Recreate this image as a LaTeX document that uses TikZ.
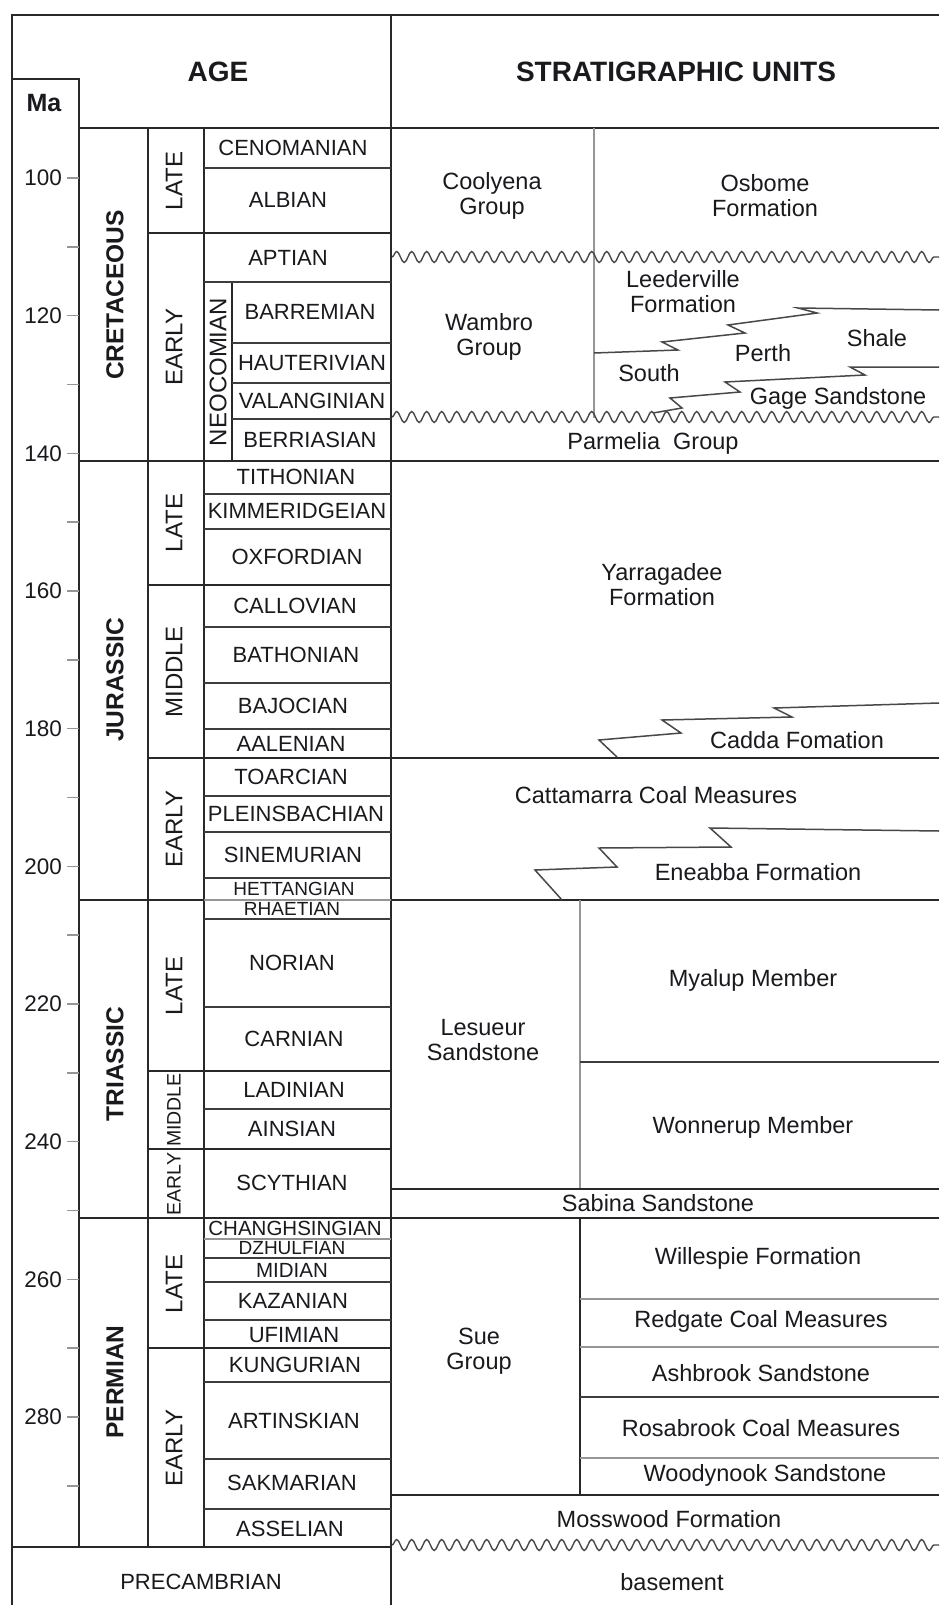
\documentclass[tikz,border=0pt]{standalone}
\usepackage{fontspec}
\setmainfont{Liberation Sans}
\usepackage{xcolor}
\definecolor{strink}{RGB}{25, 25, 30}
\definecolor{strline}{RGB}{40, 40, 40}
\definecolor{strgray}{RGB}{150, 150, 150}
\usetikzlibrary{decorations.pathmorphing}
\newcommand{\fsHead}{\fontsize{28}{30}\selectfont\bfseries}
\newcommand{\fsMa}{\fontsize{25}{27}\selectfont\bfseries}
\newcommand{\fsPeriod}{\fontsize{24.5}{26}\selectfont\bfseries}
\newcommand{\fsEpoch}{\fontsize{24}{26}\selectfont}
\newcommand{\fsEpochSm}{\fontsize{19.5}{21}\selectfont}
\newcommand{\fsStage}{\fontsize{22}{24}\selectfont}
\newcommand{\fsStageSm}{\fontsize{19}{20}\selectfont}
\newcommand{\fsUnit}{\fontsize{23.5}{25}\selectfont}
\newcommand{\fsTick}{\fontsize{22.5}{24}\selectfont}

\begin{document}
\begin{tikzpicture}[x=1pt, y=-1pt,
    boxline/.style={line width=2.8pt, strline},
    div/.style={line width=1.8pt, strline},
    subline/.style={line width=1.6pt, strline!90},
    faint/.style={line width=1.6pt, strgray},
    tickmark/.style={line width=1.5pt, strgray},
    unconf/.style={line width=1.4pt, strline!85, decorate,
        decoration={snake, segment length=15pt, amplitude=5.5pt}},
    intertongue/.style={line width=1.5pt, strline!85},
    stg/.style={font=\fsStage, text=strink, inner sep=0pt},
    unit/.style={font=\fsUnit, text=strink, align=center, inner sep=0pt},
    period/.style={font=\fsPeriod, text=strink, rotate=90, inner sep=0pt},
    epoch/.style={font=\fsEpoch, text=strink, rotate=90, inner sep=0pt}]

% === Fondo y marco ===
\fill[white] (0,0) rectangle (939,1605);
\useasboundingbox (0,0) rectangle (939,1605);

\draw[boxline] (939,15) -- (12,15) -- (12,1605);
\draw[boxline] (391,15) -- (391,1605);
\draw[boxline] (79,128) -- (939,128);
\draw[boxline] (12,79) -- (79,79) -- (79,1547);
\draw[boxline] (12,1547) -- (391,1547);

% Encabezados
\node[font=\fsHead, text=strink] (age) at (218,72) {AGE};
\node[font=\fsHead, text=strink] (units) at (676,72) {STRATIGRAPHIC UNITS};
\node[font=\fsMa, text=strink] (ma) at (44,103) {Ma};

% === Escala en Ma ===
\foreach \m in {100,110,...,290}
    \draw[tickmark] (67,{178+(\m-100)*6.883}) -- (79,{178+(\m-100)*6.883});
\foreach \m in {100,120,...,280}
    \node[anchor=east, font=\fsTick, text=strink, inner sep=0pt] (ma\m)
        at (62,{178+(\m-100)*6.883}) {\m};

% === Columnas de edad ===
\draw[div] (148,128) -- (148,1547);
\draw[div] (204,128) -- (204,1547);
\draw[div] (232,282) -- (232,461);

% Limites de periodo y de epoca
\draw[div] (79,461) -- (939,461);
\draw[div] (79,900) -- (204,900) (391,900) -- (939,900);
\draw[div] (79,1218) -- (939,1218);
\draw[div] (148,233) -- (391,233) (148,585) -- (391,585)
    (148,758) -- (939,758) (148,1071) -- (391,1071)
    (148,1149) -- (391,1149) (148,1348) -- (391,1348);

% Limites de piso
\draw[subline] (204,168) -- (391,168) (204,282) -- (391,282)
    (232,343) -- (391,343) (232,383) -- (391,383) (232,419) -- (391,419);
\draw[subline] (204,494) -- (391,494) (204,529) -- (391,529)
    (204,627) -- (391,627) (204,683) -- (391,683) (204,729) -- (391,729)
    (204,796) -- (391,796) (204,832) -- (391,832) (204,878) -- (391,878);
\draw[subline] (204,919) -- (391,919) (204,1007) -- (391,1007)
    (204,1109) -- (391,1109);
\draw[subline] (204,1258) -- (391,1258) (204,1282) -- (391,1282)
    (204,1320) -- (391,1320) (204,1382) -- (391,1382)
    (204,1459) -- (391,1459) (204,1509) -- (391,1509);
\draw[faint] (204,900) -- (391,900) (204,1239) -- (391,1239);

% Periodos
\node[period] (cretaceous) at (115,295) {CRETACEOUS};
\node[period] (jurassic) at (115,680) {JURASSIC};
\node[period] (triassic) at (115,1064) {TRIASSIC};
\node[period] (permian) at (115,1382) {PERMIAN};

% Epocas
\node[epoch] (kLate) at (174,181) {LATE};
\node[epoch] (kEarly) at (174,347) {EARLY};
\node[epoch] (neocomian) at (218,372) {NEOCOMIAN};
\node[epoch] (jLate) at (174,523) {LATE};
\node[epoch] (jMiddle) at (174,672) {MIDDLE};
\node[epoch] (jEarly) at (174,829) {EARLY};
\node[epoch] (tLate) at (174,986) {LATE};
\node[epoch, font=\fsEpochSm] (tMiddle) at (174,1110) {MIDDLE};
\node[epoch, font=\fsEpochSm] (tEarly) at (174,1184) {EARLY};
\node[epoch] (pLate) at (174,1284) {LATE};
\node[epoch] (pEarly) at (174,1448) {EARLY};

% Pisos
\node[stg] (cenomanian) at (293,148) {CENOMANIAN};
\node[stg] (albian) at (288,200) {ALBIAN};
\node[stg] (aptian) at (288,258) {APTIAN};
\node[stg] (barremian) at (310,312) {BARREMIAN};
\node[stg] (hauterivian) at (312,363) {HAUTERIVIAN};
\node[stg] (valanginian) at (312,401) {VALANGINIAN};
\node[stg] (berriasian) at (310,440) {BERRIASIAN};
\node[stg] (tithonian) at (296,477) {TITHONIAN};
\node[stg] (kimmeridgeian) at (297,511) {KIMMERIDGEIAN};
\node[stg] (oxfordian) at (297,557) {OXFORDIAN};
\node[stg] (callovian) at (295,606) {CALLOVIAN};
\node[stg] (bathonian) at (296,655) {BATHONIAN};
\node[stg] (bajocian) at (293,706) {BAJOCIAN};
\node[stg] (aalenian) at (291,744) {AALENIAN};
\node[stg] (toarcian) at (291,777) {TOARCIAN};
\node[stg] (pleinsbachian) at (296,814) {PLEINSBACHIAN};
\node[stg] (sinemurian) at (293,855) {SINEMURIAN};
\node[stg, font=\fsStageSm, fill=white] (hettangian) at (294,889) {HETTANGIAN};
\node[stg, font=\fsStageSm, fill=white] (rhaetian) at (292,909) {RHAETIAN};
\node[stg] (norian) at (292,963) {NORIAN};
\node[stg] (carnian) at (294,1039) {CARNIAN};
\node[stg] (ladinian) at (294,1090) {LADINIAN};
\node[stg] (ainsian) at (292,1129) {AINSIAN};
\node[stg] (scythian) at (292,1183) {SCYTHIAN};
\node[stg, font=\fontsize{20.5}{21}\selectfont] (changhsingian) at (295,1228) {CHANGHSINGIAN};
\node[stg, font=\fsStageSm, fill=white] (dzhulfian) at (292,1248) {DZHULFIAN};
\node[stg, font=\fontsize{20.5}{21}\selectfont] (midian) at (292,1270) {MIDIAN};
\node[stg] (kazanian) at (293,1301) {KAZANIAN};
\node[stg] (ufimian) at (294,1335) {UFIMIAN};
\node[stg] (kungurian) at (295,1365) {KUNGURIAN};
\node[stg] (artinskian) at (294,1421) {ARTINSKIAN};
\node[stg] (sakmarian) at (292,1483) {SAKMARIAN};
\node[stg] (asselian) at (290,1529) {ASSELIAN};
\node[stg] (precambrian) at (201,1582) {PRECAMBRIAN};

% === Unidades estratigraficas ===
% Divisiones internas
\draw[faint] (594,128) -- (594,418);
\draw[faint] (580,900) -- (580,1189);
\draw[subline] (580,1062) -- (939,1062);
\draw[div] (391,1189) -- (939,1189);
\draw[div] (580,1218) -- (580,1495);
\draw[faint] (580,1299) -- (939,1299) (580,1347) -- (939,1347)
    (580,1458) -- (939,1458);
\draw[subline] (580,1397) -- (939,1397);
\draw[boxline] (391,1495) -- (939,1495);

% Discordancias
\draw[unconf] (392,257) -- (939,257);
\draw[unconf] (392,417) -- (939,417);
\draw[unconf] (392,1545) -- (939,1545);

% Contactos interdigitados
\draw[intertongue] (594,353) -- (678,350) -- (662,342) -- (745,333)
    -- (728,325) -- (817,313) -- (798,308) -- (939,310);
\draw[intertongue] (653,413) -- (682,408) -- (670,398) -- (740,392)
    -- (725,382) -- (865,375) -- (850,367) -- (939,367);
\draw[intertongue] (617,757) -- (599,740) -- (681,733) -- (662,720)
    -- (792,717) -- (774,708) -- (939,703);
\draw[intertongue] (562,900) -- (535,870) -- (617,867) -- (599,848)
    -- (731,847) -- (710,828) -- (939,831);

% Etiquetas de unidades
\node[unit] (coolyena) at (492,196) {Coolyena\\Group};
\node[unit] (osborne) at (765,196) {Osbome\\Formation};
\node[unit] (wambro) at (489,337) {Wambro\\Group};
\node[unit] (leederville) at (683,292) {Leederville\\Formation};
\node[unit] (perth) at (763,353) {Perth};
\node[unit] (shale) at (877,338) {Shale};
\node[unit] (south) at (649,373) {South};
\node[unit] (gage) at (838,398) {Gage Sandstone};
\node[unit] (parmelia) at (653,443) {Parmelia\ \ Group};
\node[unit] (yarragadee) at (662,585) {Yarragadee\\Formation};
\node[unit] (cadda) at (797,740) {Cadda Fomation};
\node[unit] (cattamarra) at (656,795) {Cattamarra Coal Measures};
\node[unit] (eneabba) at (758,872) {Eneabba Formation};
\node[unit] (lesueur) at (483,1040) {Lesueur\\Sandstone};
\node[unit] (myalup) at (753,980) {Myalup Member};
\node[unit] (wonnerup) at (753,1127) {Wonnerup Member};
\node[unit] (sabina) at (658,1203) {Sabina Sandstone};
\node[unit] (sue) at (479,1351) {Sue\\Group};
\node[unit] (willespie) at (758,1258) {Willespie Formation};
\node[unit] (redgate) at (761,1321) {Redgate Coal Measures};
\node[unit] (ashbrook) at (761,1373) {Ashbrook Sandstone};
\node[unit] (rosabrook) at (761,1428) {Rosabrook Coal Measures};
\node[unit] (woodynook) at (765,1475) {Woodynook Sandstone};
\node[unit] (mosswood) at (669,1519) {Mosswood Formation};
\node[unit] (basement) at (672,1582) {basement};

\end{tikzpicture}
\end{document}
